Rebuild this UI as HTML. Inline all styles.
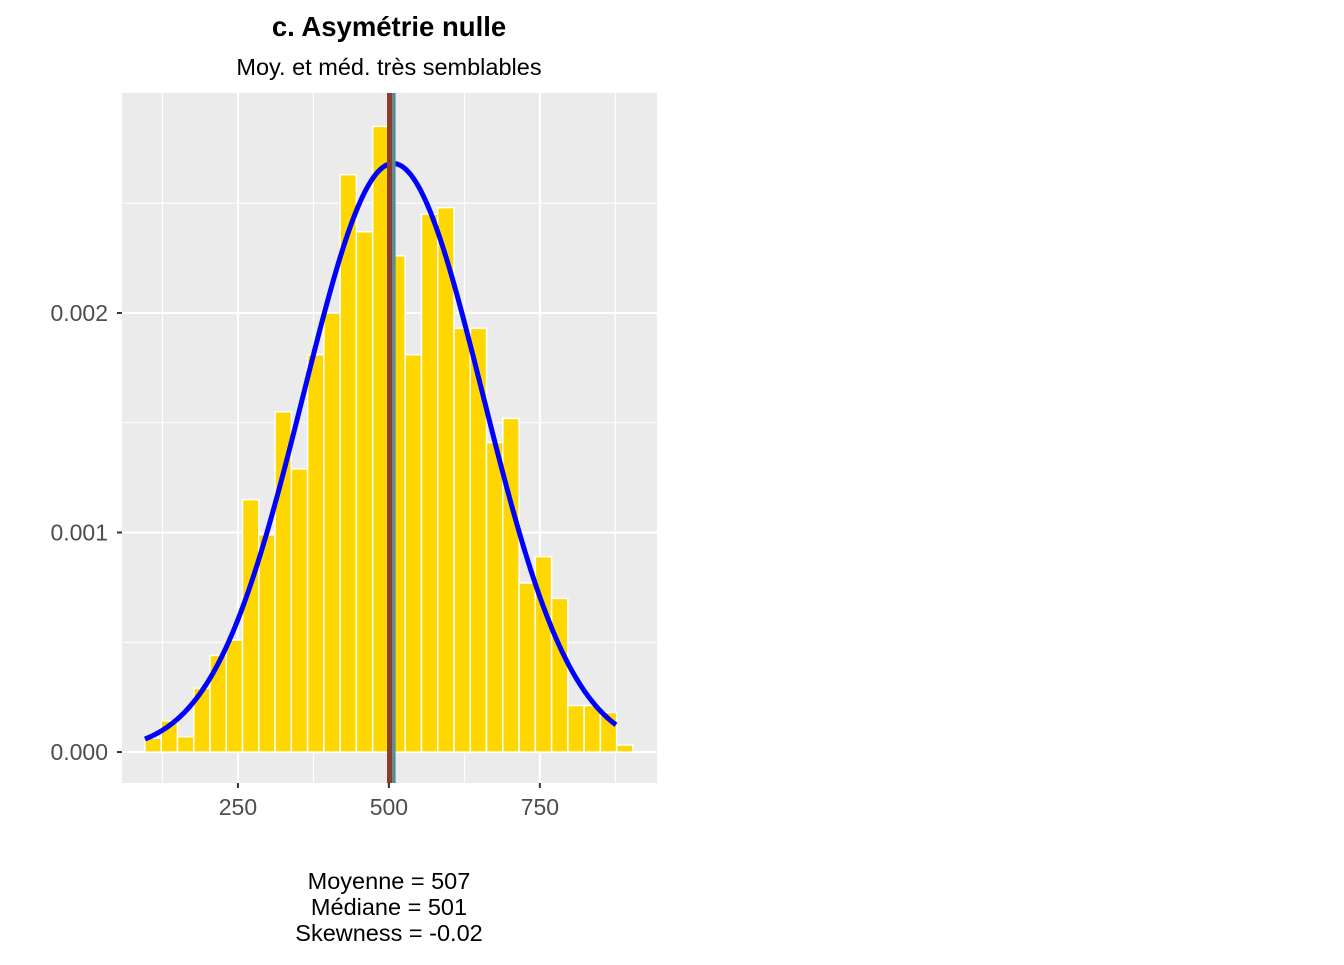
<!DOCTYPE html>
<html><head><meta charset="utf-8"><style>
body{margin:0;background:#fff;font-family:"Liberation Sans",sans-serif}
</style></head><body>
<svg width="1344" height="960" xmlns="http://www.w3.org/2000/svg" font-family="Liberation Sans, sans-serif">
<rect width="1344" height="960" fill="#fff"/>
<text x="389" y="36" text-anchor="middle" font-size="27.5" font-weight="bold">c. Asymétrie nulle</text>
<text x="389" y="75" text-anchor="middle" font-size="23.5">Moy. et méd. très semblables</text>
<g id="plot"></g>
<text x="389" y="889" text-anchor="middle" font-size="23.5">Moyenne = 507</text>
<text x="389" y="915" text-anchor="middle" font-size="23.5">Médiane = 501</text>
<text x="389" y="941" text-anchor="middle" font-size="23.5">Skewness = -0.02</text>
</svg>
<script>
const binStart = 96;
const binWidth = 16.27/0.604;
const densities = [0.0000625,0.000142,0.00007,0.00029,0.00044,0.00051,0.00115,0.00099,0.00155,0.00129,0.00181,0.0020,0.00263,0.00237,0.00285,0.00226,0.00181,0.00245,0.00248,0.00193,0.00193,0.00141,0.00152,0.00077,0.00089,0.0007,0.000212,0.000212,0.00018,0.000032];
const normalParams = [507, 148.8];
const curveRange = [96, 876];
const meanValue = [507];
const medianValue = [501];
const xTicks = [250, 500, 750];
const xMinor = [125, 375, 625, 875];
const yTicks = [0, 0.001, 0.002];
const yTickLabels = ["0.000", "0.001", "0.002"];
const yMinor = [0.0005, 0.0015, 0.0025];

const P = {l:122, r:657, t:93, b:783};
const xDom = [58, 944], yDom = [-0.000141, 0.003002];
const sx = v => P.l + (v - xDom[0])/(xDom[1]-xDom[0])*(P.r-P.l);
const sy = v => P.b - (v - yDom[0])/(yDom[1]-yDom[0])*(P.b-P.t);
const NS = "http://www.w3.org/2000/svg";
const g = document.getElementById('plot');
function mk(tag, attrs, parent){const e=document.createElementNS(NS,tag);for(const k in attrs)e.setAttribute(k,attrs[k]);(parent||g).appendChild(e);return e;}

let e = mk('rect',{x:P.l,y:P.t,width:P.r-P.l,height:P.b-P.t,fill:'#ebebeb'});


xMinor.forEach(v=>{const l=mk('line',{x1:sx(v),x2:sx(v),y1:P.t,y2:P.b,stroke:'#fff','stroke-width':1.1});

});
yMinor.forEach(v=>{const l=mk('line',{x1:P.l,x2:P.r,y1:sy(v),y2:sy(v),stroke:'#fff','stroke-width':1.1});

});
xTicks.forEach(v=>{const l=mk('line',{x1:sx(v),x2:sx(v),y1:P.t,y2:P.b,stroke:'#fff','stroke-width':2.1});


const t=mk('line',{x1:sx(v),x2:sx(v),y1:P.b,y2:P.b+5,stroke:'#333','stroke-width':2});


const tx=mk('text',{x:sx(v),y:P.b+32,'text-anchor':'middle','font-size':23,fill:'#4d4d4d'});tx.textContent=v;

});
yTicks.forEach((v,i)=>{const l=mk('line',{x1:P.l,x2:P.r,y1:sy(v),y2:sy(v),stroke:'#fff','stroke-width':2.1});


const t=mk('line',{x1:P.l-5,x2:P.l,y1:sy(v),y2:sy(v),stroke:'#333','stroke-width':2});


const tx=mk('text',{x:P.l-14,y:sy(v)+8,'text-anchor':'end','font-size':23,fill:'#4d4d4d'});tx.textContent=yTickLabels[i];

});
densities.forEach((d,i)=>{const x0=sx(binStart+i*binWidth),x1=sx(binStart+(i+1)*binWidth);
const r=mk('rect',{x:x0,y:sy(d),width:x1-x0,height:sy(0)-sy(d),fill:'#ffd700',stroke:'#fff','stroke-width':1.5});

});
let pts=[];const [mu,sd]=normalParams;
for(let k=0;k<=200;k++){const v=curveRange[0]+(curveRange[1]-curveRange[0])*k/200;
const d=Math.exp(-0.5*((v-mu)/sd)**2)/(sd*Math.sqrt(2*Math.PI));pts.push(sx(v).toFixed(2)+','+sy(d).toFixed(2));}
const c=mk('polyline',{points:pts.join(' '),fill:'none',stroke:'#0000ff','stroke-width':5,'stroke-linejoin':'round'});


const ml=mk('line',{x1:sx(meanValue[0]),x2:sx(meanValue[0]),y1:P.t,y2:P.b,stroke:'#5b8e93','stroke-width':5});


const md=mk('line',{x1:sx(medianValue[0]),x2:sx(medianValue[0]),y1:P.t,y2:P.b,stroke:'#8b3e30','stroke-width':5});


</script>
</body></html>
